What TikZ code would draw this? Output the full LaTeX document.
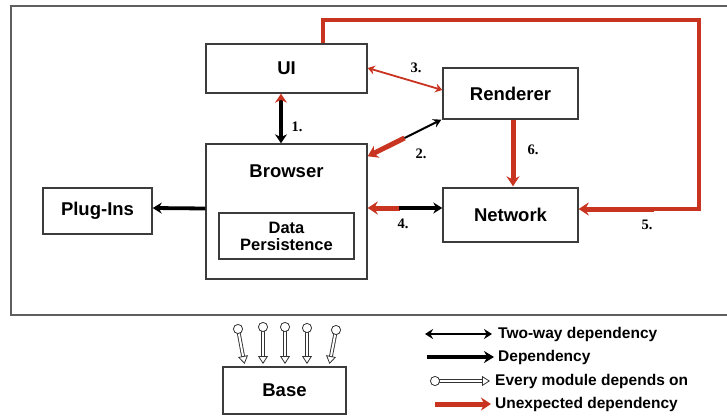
\documentclass[tikz,border=0pt]{standalone}
\usepackage{fontspec}
\setmainfont{Liberation Sans}
\newfontfamily\numfont{Liberation Serif}
\usetikzlibrary{arrows.meta,calc}
\definecolor{ured}{RGB}{200,52,32}
\definecolor{boxline}{RGB}{60,60,60}
\definecolor{framegray}{RGB}{95,95,95}
\tikzset{
  modbox/.style={draw=boxline, line width=1.4pt, fill=white, inner sep=0pt},
  modtext/.style={font=\fontsize{18.5}{20}\selectfont\bfseries, inner sep=0pt},
  numlabel/.style={font=\numfont\fontsize{14.5}{15}\selectfont\bfseries, inner sep=0pt},
  legtext/.style={font=\fontsize{15.5}{17}\selectfont\bfseries, anchor=west, inner sep=0pt},
  dep/.style={line width=3.8pt, -{Stealth[length=9pt,width=11pt]}},
  unexp/.style={draw=ured, line width=5pt, -{Stealth[length=10pt,width=13pt]}},
  thinred/.style={draw=ured, line width=1.8pt},
}
% hollow "every module depends on" arrow with a ball at its tail
\newcommand{\lollipop}[2]{%
  \coordinate (lpbase) at ($(#2)!7pt!(#1)$);
  \draw[line width=3.8pt, draw=black!80] (#1) -- (lpbase);
  \draw[line width=2pt, draw=white] (#1) -- ($(lpbase)!-0.5pt!(#1)$);
  \draw[line width=0.8pt, draw=black!80, -{Triangle[open, fill=white, length=8pt, width=10pt]}] (lpbase) -- (#2);
  \draw[line width=0.8pt, draw=black!80, fill=white] (#1) circle (4.6pt);
}
\begin{document}
\begin{tikzpicture}[x=1pt, y=-1pt, line join=miter]
\useasboundingbox (0,0) rectangle (727,417);

% outer frame around the browser architecture
\draw[framegray, line width=2pt] (10.5,6) rectangle (745,315);

% modules
\node[modbox, minimum width=161pt, minimum height=49pt]  (ui)       at (286.5,68.5) {};
\node[modtext] (uilbl) at (ui) {UI};
\node[modbox, minimum width=135pt, minimum height=51pt]  (renderer) at (510.5,93.5) {};
\node[modtext] (rendlbl) at (renderer) {Renderer};
\node[modbox, minimum width=161pt, minimum height=135pt] (browser)  at (286.5,211.5) {};
\node[modtext] (browlbl) at (286.5,171) {Browser};
\node[modbox, minimum width=135pt, minimum height=46pt]  (data)     at (286.5,236) {};
\node[font=\fontsize{16.5}{16.5}\selectfont\bfseries, align=center, inner sep=0pt] (datalbl) at (286.5,236.5) {Data\\Persistence};
\node[modbox, minimum width=109pt, minimum height=46pt]  (plugins)  at (97.5,211) {};
\node[modtext] (pluglbl) at (plugins) {Plug-Ins};
\node[modbox, minimum width=135pt, minimum height=54pt]  (network)  at (510.5,215) {};
\node[modtext] (netlbl) at (network) {Network};
\node[modbox, minimum width=123pt, minimum height=47pt]  (base)     at (284.5,390.5) {};
\node[modtext] (baselbl) at (base) {Base};

% 1. UI <-> Browser
\draw[line width=3.2pt, {Stealth[length=9pt,width=12pt,color=ured]}-{Stealth[length=9pt,width=12pt]}]
  ([xshift=-5.5pt]ui.south) -- ([xshift=-5.5pt]browser.north);
\node[numlabel] (n1) at (297,127) {1.};

% 2. Browser <-> Renderer
\coordinate (b2) at ([yshift=-13pt]browser.north east);
\coordinate (r2) at ([xshift=-1pt]renderer.south west);
\coordinate (m2) at ($(b2)!0.5!(r2)$);
\draw[unexp, {Stealth[length=10pt,width=13pt]}-] (b2) -- (m2);
\draw[line width=2pt, -{Stealth[length=8pt,width=9pt]}] (m2) -- (r2);
\node[numlabel] (n2) at (421,154) {2.};

% 3. UI <-> Renderer
\draw[thinred, {Stealth[length=7pt,width=9pt]}-{Stealth[length=7pt,width=9pt]}]
  ([yshift=0.5pt]ui.east) -- ([yshift=3.5pt]renderer.west);
\node[numlabel] (n3) at (416,68) {3.};

% 4. Browser <-> Network
\coordinate (m4) at (400,208);
\draw[unexp] (m4) -- (browser.east |- m4);
\draw[line width=3.2pt, -{Stealth[length=9pt,width=11pt]}] ([xshift=-1pt]m4) -- (network.west |- m4);
\node[numlabel] (n4) at (403,224) {4.};

% 5. UI -> Network, routed round the outside
\coordinate (c5a) at (699,20);
\coordinate (c5b) at (699,209);
\coordinate (c5c) at (653,209);
\draw[draw=ured, line width=3.2pt] ([xshift=36.5pt]ui.north) |- (c5a) -- (c5b) -- (c5c);
\draw[unexp] ([xshift=1pt]c5c) -- (network.east |- c5c);
\node[numlabel] (n5) at (647,225) {5.};

% 6. Renderer -> Network
\draw[unexp] ([xshift=2.5pt]renderer.south) -- ([xshift=2.5pt,yshift=1pt]network.north);
\node[numlabel] (n6) at (533,150) {6.};

% Browser -> Plug-Ins
\draw[dep] ([yshift=3pt]browser.west) -- ([yshift=3pt]plugins.east);

% every module depends on Base
\coordinate (l1) at (238,329); \coordinate (t1) at (244.5,364);
\coordinate (l2) at (263,327); \coordinate (t2) at (263,364);
\coordinate (l3) at (285,327); \coordinate (t3) at (285,364);
\coordinate (l4) at (307,328); \coordinate (t4) at (307,364);
\coordinate (l5) at (336,330); \coordinate (t5) at (329.5,364);
\lollipop{l1}{t1}
\lollipop{l2}{t2}
\lollipop{l3}{t3}
\lollipop{l4}{t4}
\lollipop{l5}{t5}

% legend
\coordinate (ga) at (425,334); \coordinate (gb) at (492,334);
\draw[line width=2.2pt, {Stealth[length=8pt,width=10pt]}-{Stealth[length=8pt,width=10pt]}] (ga) -- (gb);
\node[legtext] (g1) at (498,334) {Two-way dependency};
\coordinate (da) at (427,357); \coordinate (db) at (494,357);
\draw[line width=4.5pt, -{Stealth[length=10pt,width=12pt]}] (da) -- (db);
\node[legtext] (g2) at (498,357) {Dependency};
\coordinate (ea) at (435,381); \coordinate (eb) at (490,381);
\lollipop{ea}{eb}
\node[legtext] (g3) at (495,381) {Every module depends on};
\coordinate (ua) at (435,404); \coordinate (ub) at (491,404);
\draw[unexp] (ua) -- (ub);
\node[legtext] (g4) at (495,404) {Unexpected dependency};
\end{tikzpicture}
\end{document}
